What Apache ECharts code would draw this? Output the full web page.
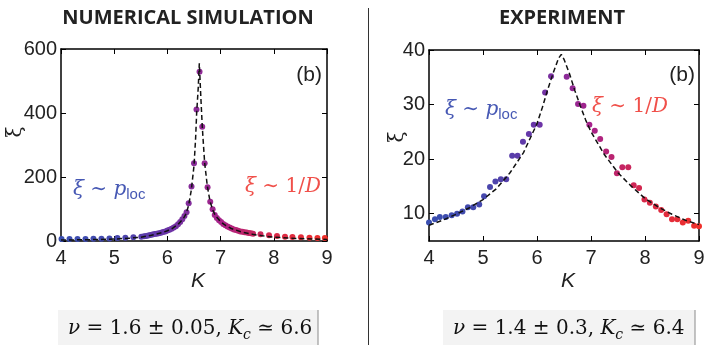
<!DOCTYPE html>
<html><head><meta charset="utf-8">
<script src="https://cdn.jsdelivr.net/npm/echarts@6/dist/echarts.min.js"></script>
<style>html,body{margin:0;padding:0;background:#fff}#c{width:717px;height:345px}</style>
</head><body><div id="c"></div>
<script>
// ---- data ----
const xTicks = [4, 5, 6, 7, 8, 9];
const simYTicks = [0, 200, 400, 600];
const expYTicks = [10, 20, 30, 40];

// numerical simulation: points
const simK = [4.01,4.16,4.31,4.46,4.61,4.76,4.91,5.06,5.21,5.36,5.51,
  5.56,5.60,5.64,5.68,5.72,5.76,5.80,5.84,5.88,5.92,5.96,6.00,6.04,6.08,6.12,6.16,6.20,6.24,6.28,6.32,6.36,
  6.40,6.453,6.50,6.547,6.604,6.655,6.70,6.755,6.805,6.85,6.89,
  6.93,6.97,7.01,7.05,7.09,7.13,7.17,7.21,7.25,7.29,7.33,7.37,7.41,7.45,7.49,7.53,7.57,7.61,
  7.75,7.91,8.06,8.21,8.35,8.51,8.67,8.82,8.96];
const simXi = [6,6,6,6.5,7,7,8,9,10.5,11.5,13,
  15,16,17,18.5,20,21.5,23,24.5,26,28,30,32.5,35,38,42,46,52,59,68,78,90,
  118,170,243,411,529,357,243,168,123,99,81,
  72,65,59,53,49,45,42,39,36,34,32,30,29,27.5,26.5,25,24,23,
  21,18,16,13,12.5,11.5,10,9,9];
// numerical simulation: fit (dashed)
const simFitK = [4.0,4.5,5.0,5.3,5.5,5.7,5.9,6.0,6.1,6.2,6.3,6.35,6.4,6.45,6.5,6.53,6.55,6.58,6.6,
  6.62,6.64,6.655,6.67,6.7,6.75,6.8,6.85,6.9,7.0,7.1,7.2,7.4,7.6,7.8,8.0,8.3,8.6,9.0];
const simFitXi = [3,4,6,9,12,18,26,32,40,52,70,85,112,160,235,320,400,480,555,
  480,410,360,320,245,172,125,98,80,60,48,39,28,21,16,12,9,7,5];

// experiment: points
const expK = [4.0,4.11,4.2,4.31,4.42,4.52,4.62,4.72,4.82,4.93,5.02,5.13,5.23,5.33,5.43,5.54,5.64,5.74,5.85,5.94,6.05,6.15,6.26,
  6.55,6.66,6.76,6.86,6.97,7.07,7.17,7.28,7.38,7.48,7.58,7.69,7.79,7.89,7.99,8.09,8.2,8.3,8.4,8.5,8.6,8.7,8.8,8.91,9.0];
const expXi = [8.4,9.0,9.4,9.4,9.7,10,10.4,11.2,11.2,11.7,13.2,14.9,15.9,16.3,16.3,20.6,20.6,23.2,24.6,26.3,26.3,32.2,35.2,
  35.1,33.0,30.1,29.8,26.3,25.2,23.7,21.4,20.4,17.4,18.5,18.5,15.2,14.7,12.6,12.0,11.3,10.7,9.9,9.0,9.0,8.4,8.7,7.8,7.7];
// experiment: fit (dashed)
const expFitK = [4.0,4.25,4.5,4.75,5.0,5.25,5.5,5.75,6.0,6.1,6.2,6.3,6.4,6.45,6.5,6.6,6.7,6.8,6.9,7.0,7.25,7.5,7.75,8.0,8.25,8.5,8.75,9.0];
const expFitXi = [7.9,8.8,9.9,11.1,12.6,14.6,17.5,21.2,26.5,29.5,32.8,35.8,38.5,39.2,38.3,35.7,32.6,29.8,27.2,25.0,20.8,17.5,15.0,12.8,11.2,9.9,8.8,8.0];

// ---- chart ----
const pts = (ks, vs) => ks.map((k, i) => [k, vs[i]]);
const chart = echarts.init(document.getElementById('c'), null, {renderer: 'canvas'});
const SANS = 'Liberation Sans, Arial, sans-serif';
const SERIF = 'DejaVu Serif, Liberation Serif, serif';
const TXT = '#222';
const grids = [
  {left: 61, top: 49, width: 266, height: 192},
  {left: 429, top: 50, width: 270, height: 191}
];
function xAx(g, pos) {
  const main = pos === 'bottom';
  return {
    type: 'value', gridIndex: g, position: pos, min: 4, max: 9, interval: 1,
    axisLine: {show: true, onZero: false, lineStyle: {color: '#000', width: 1.5}},
    axisTick: {show: true, inside: true, length: 5, lineStyle: {color: '#000', width: 1}},
    axisLabel: {show: main, fontSize: 20, color: TXT, fontFamily: SANS, margin: 7},
    splitLine: {show: false}
  };
}
function yAx(g, pos, min, max, ticks) {
  const main = pos === 'left';
  return {
    type: 'value', gridIndex: g, position: pos, min: min, max: max,
    axisLine: {show: true, onZero: false, lineStyle: {color: '#000', width: 1.5}},
    axisTick: {show: true, inside: true, length: 5, customValues: ticks, lineStyle: {color: '#000', width: 1}},
    axisLabel: {show: main, customValues: ticks, fontSize: 20, color: TXT, fontFamily: SANS, margin: 4},
    splitLine: {show: false}
  };
}
const colorStops = ['#3a4fb0', '#4548ad', '#6a35a8', '#a8228a', '#d82848', '#f0302a'];
function rich(color) {
  return {
    i: {fontFamily: SERIF, fontStyle: 'italic', fontSize: 20, fill: color, lineHeight: 24, verticalAlign: 'middle'},
    s: {fontFamily: SERIF, fontSize: 20, fill: color, lineHeight: 24, verticalAlign: 'middle'},
    sub: {fontFamily: SANS, fontSize: 15, fill: color, lineHeight: 15, verticalAlign: 'bottom'}
  };
}
function mathBox(x, w, text, textX) {
  return [
    {type: 'rect', shape: {x: x, y: 310, width: w, height: 35}, style: {fill: '#f3f3f3'}},
    {type: 'line', shape: {x1: x + w, y1: 310, x2: x + w, y2: 345}, style: {stroke: '#8a8a8a', lineWidth: 1}},
    {type: 'text', x: textX, y: 329, style: {
      text: text, align: 'left', verticalAlign: 'middle',
      rich: {
        m: {fontFamily: SERIF, fontStyle: 'italic', fontSize: 20, fill: '#111', lineHeight: 26, verticalAlign: 'middle'},
        n: {fontFamily: SERIF, fontSize: 20, fill: '#111', lineHeight: 26, verticalAlign: 'middle'},
        sb: {fontFamily: SERIF, fontStyle: 'italic', fontSize: 14, fill: '#111', lineHeight: 16, verticalAlign: 'bottom'}
      }
    }}
  ];
}
const blue = '#4658b4', red = '#f0504a';
const TITLE_FONT = 'bold 20px "Open Sans", "DejaVu Sans", sans-serif';
const option = {
  animation: false,
  backgroundColor: '#fff',
  grid: grids,
  xAxis: [xAx(0, 'bottom'), xAx(0, 'top'), xAx(1, 'bottom'), xAx(1, 'top')],
  yAxis: [yAx(0, 'left', 0, 600, simYTicks), yAx(0, 'right', 0, 600, simYTicks),
          yAx(1, 'left', 5, 40, expYTicks), yAx(1, 'right', 5, 40, expYTicks)],
  visualMap: [
    {type: 'continuous', show: false, seriesIndex: 0, dimension: 0, min: 4, max: 9, inRange: {color: colorStops}},
    {type: 'continuous', show: false, seriesIndex: 2, dimension: 0, min: 4, max: 9, inRange: {color: colorStops}}
  ],
  series: [
    {type: 'scatter', xAxisIndex: 0, yAxisIndex: 0, symbolSize: 6, itemStyle: {opacity: 1}, data: pts(simK, simXi), z: 2},
    {type: 'line', xAxisIndex: 0, yAxisIndex: 0, showSymbol: false, symbol: 'none', data: pts(simFitK, simFitXi),
      lineStyle: {type: [5, 3], width: 1.5, color: '#111'}, z: 3},
    {type: 'scatter', xAxisIndex: 2, yAxisIndex: 2, symbolSize: 6, itemStyle: {opacity: 1}, data: pts(expK, expXi), z: 2},
    {type: 'line', xAxisIndex: 2, yAxisIndex: 2, showSymbol: false, symbol: 'none', data: pts(expFitK, expFitXi),
      lineStyle: {type: [5, 3], width: 1.5, color: '#111'}, z: 3}
  ],
  graphic: [
    {type: 'text', x: 188, y: 18, style: {text: 'NUMERICAL SIMULATION', font: TITLE_FONT, fill: TXT, align: 'center', verticalAlign: 'middle'}},
    {type: 'text', x: 562, y: 18, style: {text: 'EXPERIMENT', font: TITLE_FONT, fill: TXT, align: 'center', verticalAlign: 'middle'}},
    {type: 'line', shape: {x1: 368.5, y1: 8, x2: 368.5, y2: 345}, style: {stroke: '#333', lineWidth: 1}},
    // axis titles
    {type: 'text', x: 16, y: 132, rotation: Math.PI / 2, style: {text: 'ξ', font: '20px "DejaVu Serif", serif', fill: TXT, align: 'center', verticalAlign: 'middle'}},
    {type: 'text', x: 398, y: 137, rotation: Math.PI / 2, style: {text: 'ξ', font: '20px "DejaVu Serif", serif', fill: TXT, align: 'center', verticalAlign: 'middle'}},
    {type: 'text', x: 198, y: 281, style: {text: 'K', font: 'italic 21px "Liberation Sans", sans-serif', fill: TXT, align: 'center', verticalAlign: 'middle'}},
    {type: 'text', x: 568, y: 281, style: {text: 'K', font: 'italic 21px "Liberation Sans", sans-serif', fill: TXT, align: 'center', verticalAlign: 'middle'}},
    // panel letters
    {type: 'text', x: 322, y: 75, style: {text: '(b)', font: '21px "Liberation Sans", sans-serif', fill: TXT, align: 'right', verticalAlign: 'middle'}},
    {type: 'text', x: 695, y: 75, style: {text: '(b)', font: '21px "Liberation Sans", sans-serif', fill: TXT, align: 'right', verticalAlign: 'middle'}},
    // annotations
    {type: 'text', x: 73, y: 190, style: {text: '{i|ξ}{s| ∼ }{i|p}{sub|loc}', align: 'left', verticalAlign: 'middle', rich: rich(blue)}},
    {type: 'text', x: 445, y: 110, style: {text: '{i|ξ}{s| ∼ }{i|p}{sub|loc}', align: 'left', verticalAlign: 'middle', rich: rich(blue)}},
    {type: 'text', x: 245, y: 187, style: {text: '{i|ξ}{s| ∼ 1/}{i|D}', align: 'left', verticalAlign: 'middle', rich: rich(red)}},
    {type: 'text', x: 592, y: 107, style: {text: '{i|ξ}{s| ∼ 1/}{i|D}', align: 'left', verticalAlign: 'middle', rich: rich(red)}},
    ...mathBox(58, 260, '{m|ν}{n| = 1.6 ± 0.05, }{m|K}{sb|c}{n| ≃ 6.6}', 68),
    ...mathBox(443, 252, '{m|ν}{n| = 1.4 ± 0.3, }{m|K}{sb|c}{n| ≃ 6.4}', 453)
  ]
};
chart.setOption(option);
</script>
</body></html>
